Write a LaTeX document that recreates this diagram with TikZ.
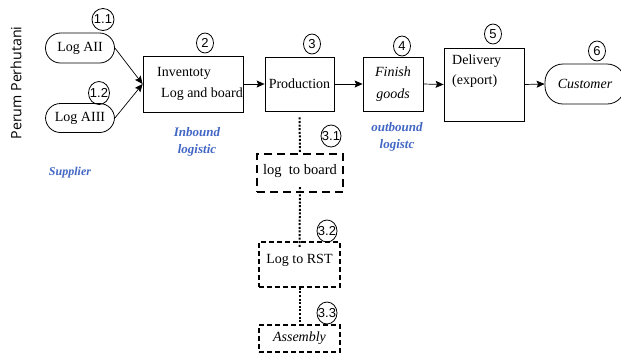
\documentclass[tikz,border=0pt]{standalone}
\usepackage{fontspec}
\setmainfont{Liberation Serif}
\newfontfamily\sidefont{Open Sans}
\newfontfamily\numfont{Liberation Sans}
\usetikzlibrary{arrows.meta,shapes.geometric}
\definecolor{tagblue}{RGB}{66,102,196}
\tikzset{
  box/.style={draw, line width=0.8pt, rectangle, inner sep=2pt, font=\fontsize{14}{16}\selectfont},
  pill/.style={draw, line width=0.8pt, rectangle, rounded corners=15pt, inner sep=2pt, font=\fontsize{14}{16}\selectfont},
  num/.style={draw, line width=0.8pt, ellipse, minimum width=17pt, minimum height=20pt, inner sep=0pt, font=\numfont\fontsize{13}{15}\selectfont},
  wnum/.style={num, minimum width=20pt, minimum height=22pt},
  flow/.style={line width=0.7pt, -{Stealth[length=8pt,width=7pt,inset=1.5pt]}},
  link/.style={line width=2pt, dash pattern=on 2pt off 1.6pt},
  stage/.style={text=tagblue, font=\fontsize{13}{17}\selectfont\bfseries\itshape, align=center},
  heavydash/.style={draw, line width=2.4pt, dash pattern=on 8pt off 5pt, rectangle, inner sep=2pt, font=\fontsize{14.5}{16}\selectfont},
  lightdash/.style={draw, line width=1.4pt, dash pattern=on 5pt off 3pt, rectangle, inner sep=2pt, font=\fontsize{14}{16}\selectfont},
}
\newcommand{\numtext}[1]{\makebox[0pt]{#1}}
\begin{document}
\begin{tikzpicture}[x=1pt, y=-1pt]
\useasboundingbox (0,0) rectangle (621,360);

% side caption
\node[rotate=90, font=\sidefont\fontsize{14.2}{16}\selectfont] (org) at (16,83) {Perum Perhutani};

% suppliers
\node[pill, minimum width=69pt, minimum height=30pt] (aii) at (80,48) {Log AII};
\node[pill, minimum width=69pt, minimum height=29pt] (aiii) at (80,118) {Log AIII};
\node[wnum, minimum width=22pt] (n11) at (103,19.5) {\numtext{1.1}};
\node[wnum, minimum width=21pt, minimum height=23pt] (n12) at (99,93) {\numtext{1.2}};
\node[stage, font=\fontsize{12}{15}\selectfont\bfseries\itshape] (sup) at (70,173) {Supplier};

% main chain
\node[box, minimum width=100pt, minimum height=56pt] (inv) at (193,84) {};
\node[anchor=west, align=left, inner sep=0pt, font=\fontsize{14}{21}\selectfont] (invtext) at (157,84) {Inventoty\\\hspace*{4pt}Log and board};
\node[num] (n2) at (205,43) {\numtext{2}};
\node[box, minimum width=69pt, minimum height=54pt] (prod) at (299.5,84) {Production};
\node[num] (n3) at (312,44) {\numtext{3}};
\node[box, minimum width=60pt, minimum height=54pt, align=center, font=\fontsize{14}{22}\selectfont\itshape] (fin) at (393,84) {Finish\\goods};
\node[num] (n4) at (402,46) {\numtext{4}};
\node[box, minimum width=80pt, minimum height=73pt] (del) at (484,84.5) {};
\node[anchor=north west, align=left, font=\fontsize{14}{20}\selectfont, inner sep=0pt] (deltext) at (452,55) {Delivery\\(export)};
\node[num] (n5) at (493,34) {\numtext{5}};
\node[pill, minimum width=80pt, minimum height=40pt, rounded corners=18pt, font=\fontsize{14}{16}\selectfont\itshape] (cust) at (585,84) {Customer};
\node[num] (n6) at (597,51) {\numtext{6}};

\node[stage] (inb) at (197,141.5) {Inbound\\logistic};
\node[stage] (outb) at (397,136.5) {outbound\\logistc};

% connectors
\draw[flow] (aii.east) -- (inv.west);
\draw[flow] (aiii.east) -- (inv.west);
\draw[flow] (inv.east) -- (prod.west);
\draw[flow] (prod.east) -- (fin.west);
\draw[flow] (fin.east) -- (del.west);
\draw[flow] (del.east) -- (cust.west);

% production sub-steps
\node[heavydash, minimum width=86pt, minimum height=38pt, text depth=8pt] (ltb) at (300,173) {log\ \ to board};
\node[wnum, minimum width=20pt] (n31) at (331,136) {\numtext{3.1}};
\node[lightdash, minimum width=81pt, minimum height=45pt, text depth=12pt] (rst) at (299.5,264.5) {Log to RST};
\node[wnum, minimum width=20pt] (n32) at (327,231) {\numtext{3.2}};
\node[lightdash, minimum width=81pt, minimum height=27pt, font=\fontsize{14}{16}\selectfont\itshape] (asm) at (299.5,338.5) {Assembly};
\node[wnum, minimum width=20pt] (n33) at (327,313) {\numtext{3.3}};

\draw[link] ([yshift=-6pt]prod.south) -- (ltb.north);
\draw[link] ([yshift=6pt]ltb.south) -- ([yshift=-6pt]rst.north);
\draw[link] (rst.south) -- (asm.north);
\end{tikzpicture}
\end{document}
